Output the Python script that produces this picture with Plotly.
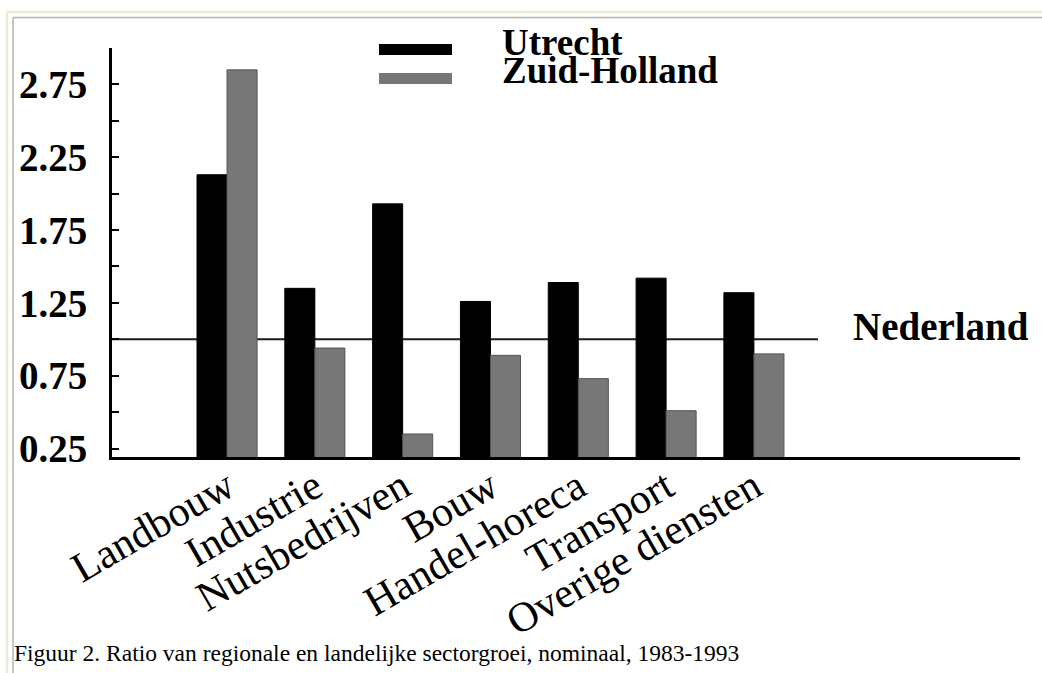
import plotly.graph_objects as go

# ---- data ----
categories = ["Landbouw", "Industrie", "Nutsbedrijven", "Bouw",
              "Handel-horeca", "Transport", "Overige diensten"]
utrecht = [2.13, 1.35, 1.93, 1.26, 1.39, 1.42, 1.32]
zuid_holland = [2.85, 0.94, 0.35, 0.89, 0.73, 0.51, 0.90]
nederland = 1.0
series_names = ["Utrecht", "Zuid-Holland"]
tick_values = [0.25, 0.5, 0.75, 1.0, 1.25, 1.5, 1.75, 2.0, 2.25, 2.5, 2.75, 3.0]
tick_labels = ["0.25", "", "0.75", "", "1.25", "", "1.75", "", "2.25", "", "2.75", ""]
caption = "Figuur 2. Ratio van regionale en landelijke sectorgroei, nominaal, 1983-1993"

# ---- layout helpers (pixel -> paper) ----
W, H = 1042, 673
L, R, T, B = 112, 1020, 48, 457.5
def px(x):
    return (x - L) / (R - L)
def py(y):
    return (B - y) / (B - T)

SERIF = "Liberation Serif, Times New Roman, serif"
xs = list(range(len(categories)))

fig = go.Figure()
fig.add_trace(go.Bar(x=xs, y=utrecht, name=series_names[0],
                     marker=dict(color="#000000", line=dict(color="#000000", width=1))))
fig.add_trace(go.Bar(x=xs, y=zuid_holland, name=series_names[1],
                     marker=dict(color="#777777", line=dict(color="#555555", width=1))))

shapes = []
# page frame
shapes.append(dict(type="line", xref="paper", yref="paper", x0=px(7), x1=px(1045), y0=py(12), y1=py(12),
                   line=dict(color="#ECE9D8", width=2.5)))
shapes.append(dict(type="line", xref="paper", yref="paper", x0=px(7), x1=px(7), y0=py(12), y1=py(680),
                   line=dict(color="#ECE9D8", width=2.5)))
shapes.append(dict(type="line", xref="paper", yref="paper", x0=px(13), x1=px(1045), y0=py(17.5), y1=py(17.5),
                   line=dict(color="#B4B2AA", width=1.5)))
shapes.append(dict(type="line", xref="paper", yref="paper", x0=px(13), x1=px(13), y0=py(17.5), y1=py(680),
                   line=dict(color="#B4B2AA", width=1.5)))
# Nederland reference line
shapes.append(dict(type="line", xref="paper", yref="y", x0=0, x1=px(818), y0=nederland, y1=nederland,
                   line=dict(color="#1a1a1a", width=2), layer="below"))
# legend swatches
shapes.append(dict(type="rect", xref="paper", yref="paper", x0=px(379), x1=px(452), y0=py(55), y1=py(44),
                   fillcolor="#000000", line=dict(width=0)))
shapes.append(dict(type="rect", xref="paper", yref="paper", x0=px(379), x1=px(452), y0=py(84), y1=py(73),
                   fillcolor="#777777", line=dict(width=0)))

annotations = [
    dict(text=series_names[0], xref="paper", yref="paper", x=px(500), y=py(42), xanchor="left",
         yanchor="middle", showarrow=False, font=dict(family=SERIF, size=37, color="#000", weight="bold")),
    dict(text=series_names[1], xref="paper", yref="paper", x=px(500), y=py(70.5), xanchor="left",
         yanchor="middle", showarrow=False, font=dict(family=SERIF, size=37, color="#000", weight="bold")),
    dict(text="Nederland", xref="paper", yref="y", x=px(851), y=nederland, yshift=13,
         xanchor="left", yanchor="middle", showarrow=False,
         font=dict(family=SERIF, size=39, color="#000", weight="bold")),
    dict(text=caption, xref="paper", yref="paper", x=px(12), y=py(654), xanchor="left", yanchor="middle",
         showarrow=False, font=dict(family=SERIF, size=23.5, color="#000")),
]

fig.update_layout(
    width=W, height=H,
    margin=dict(l=L, r=W - R, t=T, b=H - B, autoexpand=False),
    paper_bgcolor="#ffffff", plot_bgcolor="#ffffff",
    barmode="group", bargap=0.316, bargroupgap=0,
    showlegend=False,
    shapes=shapes, annotations=annotations,
    xaxis=dict(range=[-1.31, 9.03], tickvals=xs, ticktext=categories, tickangle=-30,
               ticks="", showgrid=False, zeroline=False, showline=True, linecolor="#000",
               linewidth=2.5, automargin=False, ticklabelstandoff=-14,
               tickfont=dict(family=SERIF, size=42, color="#000")),
    yaxis=dict(range=[0.192, 3.0], tickvals=tick_values, ticktext=tick_labels,
               ticks="inside", ticklen=7, tickwidth=1.5, tickcolor="#000",
               showgrid=False, zeroline=False, showline=True, linecolor="#000", linewidth=3,
               automargin=False, ticklabelstandoff=14,
               tickfont=dict(family=SERIF, size=39, color="#000", weight="bold")),
)

fig.write_html("out.html", config={"displayModeBar": False},
               post_script="document.body.style.margin='0';document.body.style.overflow='hidden';")
